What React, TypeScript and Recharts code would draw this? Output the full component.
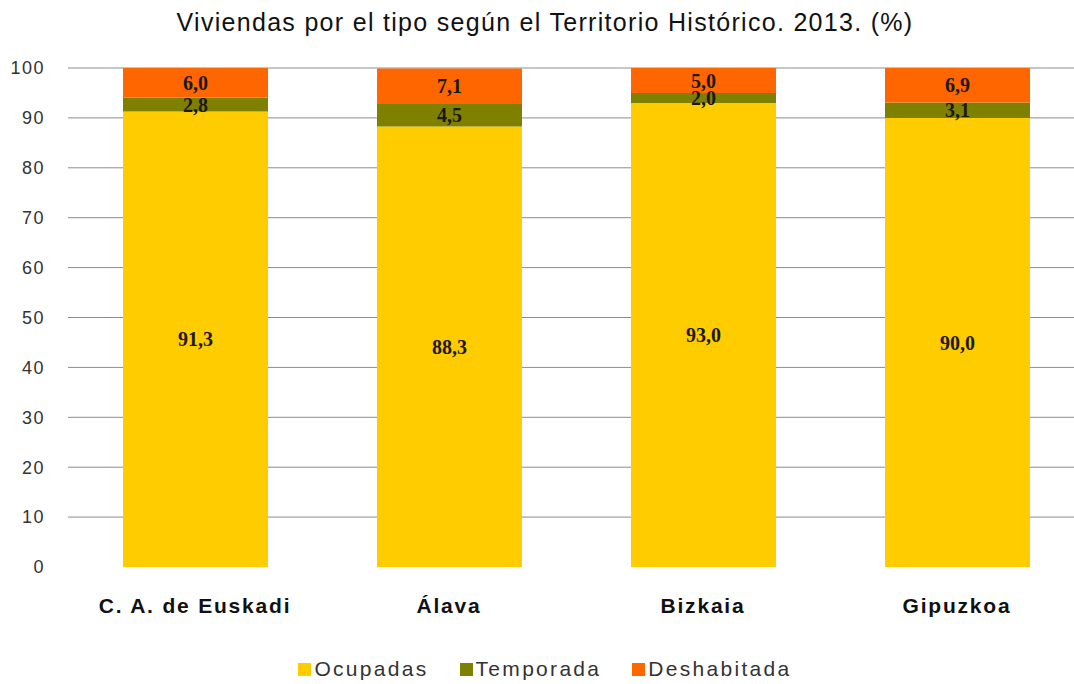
import React from "react";
import {
	Bar,
	BarChart,
	CartesianGrid,
	LabelList,
	Legend,
	XAxis,
	YAxis,
} from "recharts";

const categories = ["C. A. de Euskadi", "Álava", "Bizkaia", "Gipuzkoa"];
const seriesNames = ["Ocupadas", "Temporada", "Deshabitada"];
const ocupadas = [91.3, 88.3, 93.0, 90.0];
const temporada = [2.8, 4.5, 2.0, 3.1];
const deshabitada = [6.0, 7.1, 5.0, 6.9];
const yTicks = [0, 10, 20, 30, 40, 50, 60, 70, 80, 90, 100];

const data = categories.map((name, i) => ({
	name,
	ocupadas: ocupadas[i],
	temporada: temporada[i],
	deshabitada: deshabitada[i],
}));

const fmt = (v: unknown) => Number(v).toFixed(1).replace(".", ",");

const labelStyle = {
	fontFamily: "'Liberation Serif', 'Times New Roman', serif",
	fontWeight: "bold",
	fontSize: 20,
	fill: "#1a1a1a",
};

const LegendContent = (props: any) => {
	const items = [...(props.payload || [])].sort(
		(a: any, b: any) => seriesNames.indexOf(a.value) - seriesNames.indexOf(b.value),
	);
	return (
		<div
			style={{
				display: "flex",
				justifyContent: "center",
				gap: 31,
				fontFamily: "'Liberation Sans', Arial, sans-serif",
				fontSize: 21,
				letterSpacing: 2.3,
				color: "#333",
			}}
		>
			{items.map((it: any) => (
				<div key={it.value} style={{ display: "flex", alignItems: "center" }}>
					<span
						style={{
							width: 13,
							height: 13,
							background: it.color,
							marginRight: 3,
							display: "inline-block",
						}}
					/>
					<span>{it.value}</span>
				</div>
			))}
		</div>
	);
};

export default function App() {
	return (
		<div
			style={{
				position: "absolute",
				left: 0,
				top: 0,
				width: 1074,
				height: 684,
				overflow: "hidden",
				background: "#fff",
			}}
		>
			<div
				style={{
					position: "absolute",
					left: 0,
					top: 8,
					width: 1090,
					textAlign: "center",
					fontFamily: "'Liberation Sans', Arial, sans-serif",
					fontSize: 25,
					letterSpacing: 1.3,
					color: "#111",
				}}
			>
				Viviendas por el tipo según el Territorio Histórico. 2013. (%)
			</div>
			<BarChart
				width={1090}
				height={684}
				data={data}
				margin={{ top: 68, right: 6, left: 0, bottom: 63 }}
			>
				<CartesianGrid
					vertical={false}
					stroke="#8c8c8c"
					horizontalCoordinatesGenerator={({ yAxis, offset }: any) =>
						yTicks
							.filter((t) => t > 0)
							.map((t) =>
								yAxis && typeof yAxis.scale === "function"
									? yAxis.scale(t)
									: offset.top + offset.height * (1 - t / 100),
							)
					}
				/>
				<XAxis
					dataKey="name"
					axisLine={false}
					tickLine={false}
					tickSize={0}
					tickMargin={31}
					interval={0}
					tick={{
						fontFamily: "'Liberation Sans', Arial, sans-serif",
						fontWeight: "bold",
						fontSize: 21,
						letterSpacing: 1.8,
						fill: "#111",
					}}
				/>
				<YAxis
					width={68}
					domain={[0, 100]}
					ticks={yTicks}
					allowDataOverflow
					axisLine={false}
					tickLine={false}
					tickSize={0}
					tickMargin={23}
					tick={{
						fontFamily: "'Liberation Sans', Arial, sans-serif",
						fontSize: 18,
						letterSpacing: 1.5,
						fill: "#333",
					}}
				/>
				<Legend
					verticalAlign="bottom"
					content={<LegendContent />}
					wrapperStyle={{ position: "absolute", left: 0, top: 657, width: 1090 }}
				/>
				<Bar
					dataKey="ocupadas"
					name="Ocupadas"
					stackId="a"
					fill="#ffcc00"
					barSize={145}
					isAnimationActive={false}
				>
					<LabelList dataKey="ocupadas" position="center" formatter={fmt} style={labelStyle} />
				</Bar>
				<Bar
					dataKey="temporada"
					name="Temporada"
					stackId="a"
					fill="#808000"
					barSize={145}
					isAnimationActive={false}
				>
					<LabelList dataKey="temporada" position="center" formatter={fmt} style={labelStyle} />
				</Bar>
				<Bar
					dataKey="deshabitada"
					name="Deshabitada"
					stackId="a"
					fill="#ff6600"
					barSize={145}
					isAnimationActive={false}
				>
					<LabelList dataKey="deshabitada" position="center" formatter={fmt} style={labelStyle} />
				</Bar>
			</BarChart>
		</div>
	);
}
